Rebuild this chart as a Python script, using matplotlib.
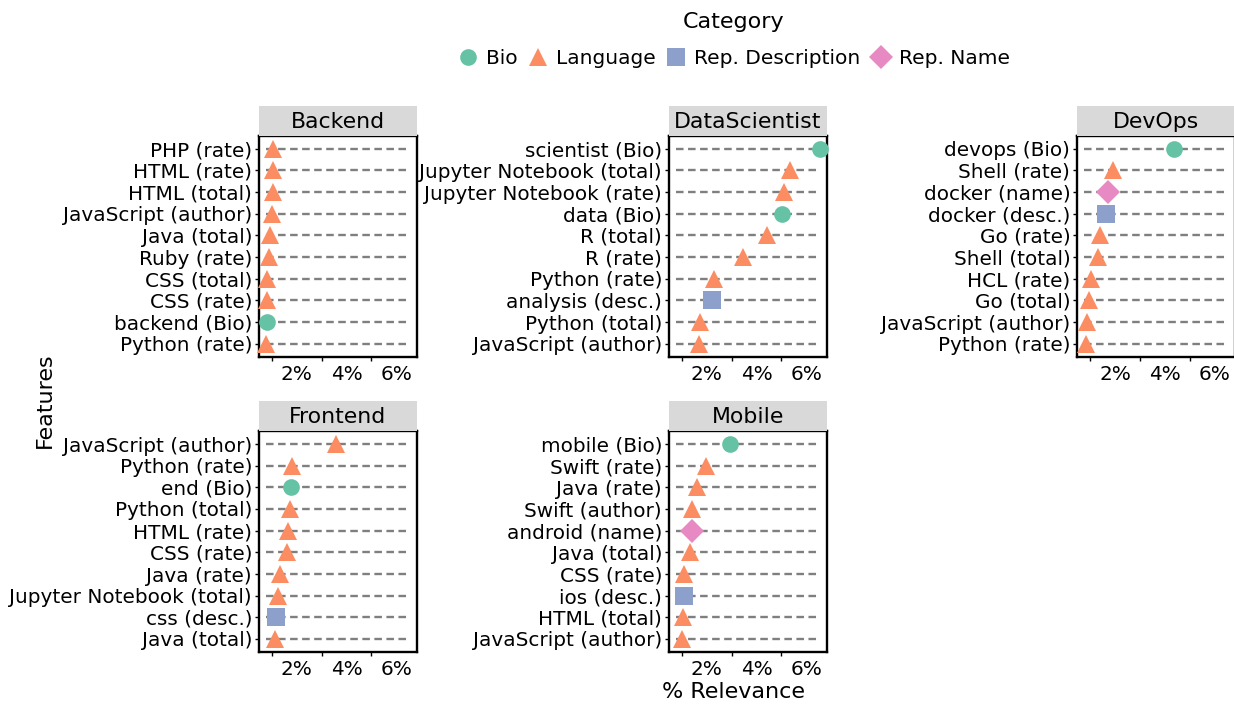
import numpy as np
import matplotlib
matplotlib.use("Agg")
import matplotlib.pyplot as plt
from matplotlib.lines import Line2D
from matplotlib.ticker import FixedLocator, FuncFormatter

# data (top to bottom in each panel), values in %
backend_feat = ['PHP (rate)', 'HTML (rate)', 'HTML (total)', 'JavaScript (author)', 'Java (total)',
                'Ruby (rate)', 'CSS (total)', 'CSS (rate)', 'backend (Bio)', 'Python (rate)']
backend_val = [1.05, 1.03, 1.03, 1.01, 0.91, 0.86, 0.80, 0.80, 0.80, 0.76]
backend_cat = ['Language'] * 8 + ['Bio', 'Language']

ds_feat = ['scientist (Bio)', 'Jupyter Notebook (total)', 'Jupyter Notebook (rate)', 'data (Bio)',
           'R (total)', 'R (rate)', 'Python (rate)', 'analysis (desc.)', 'Python (total)',
           'JavaScript (author)']
ds_val = [6.54, 5.36, 5.09, 5.03, 4.41, 3.47, 2.27, 2.19, 1.73, 1.68]
ds_cat = ['Bio', 'Language', 'Language', 'Bio', 'Language', 'Language', 'Language',
          'Rep. Description', 'Language', 'Language']

devops_feat = ['devops (Bio)', 'Shell (rate)', 'docker (name)', 'docker (desc.)', 'Go (rate)',
               'Shell (total)', 'HCL (rate)', 'Go (total)', 'JavaScript (author)', 'Python (rate)']
devops_val = [4.35, 1.93, 1.72, 1.63, 1.39, 1.32, 1.03, 0.93, 0.88, 0.84]
devops_cat = ['Bio', 'Language', 'Rep. Name', 'Rep. Description'] + ['Language'] * 6

front_feat = ['JavaScript (author)', 'Python (rate)', 'end (Bio)', 'Python (total)', 'HTML (rate)',
              'CSS (rate)', 'Java (rate)', 'Jupyter Notebook (total)', 'css (desc.)', 'Java (total)']
front_val = [3.59, 1.81, 1.77, 1.74, 1.65, 1.62, 1.30, 1.23, 1.15, 1.12]
front_cat = ['Language', 'Language', 'Bio'] + ['Language'] * 5 + ['Rep. Description', 'Language']

mobile_feat = ['mobile (Bio)', 'Swift (rate)', 'Java (rate)', 'Swift (author)', 'android (name)',
               'Java (total)', 'CSS (rate)', 'ios (desc.)', 'HTML (total)', 'JavaScript (author)']
mobile_val = [2.95, 1.96, 1.59, 1.39, 1.38, 1.32, 1.09, 1.07, 1.03, 0.99]
mobile_cat = ['Bio', 'Language', 'Language', 'Language', 'Rep. Name', 'Language', 'Language',
              'Rep. Description', 'Language', 'Language']

categories = ['Bio', 'Language', 'Rep. Description', 'Rep. Name']
colors = {'Bio': '#66c2a5', 'Language': '#fc8d62', 'Rep. Description': '#8da0cb', 'Rep. Name': '#e78ac3'}
markers = {'Bio': 'o', 'Language': '^', 'Rep. Description': 's', 'Rep. Name': 'D'}
msizes = {'Bio': 12, 'Language': 13.5, 'Rep. Description': 12.5, 'Rep. Name': 12}

panels = [
    ('Backend', backend_feat, backend_val, backend_cat),
    ('DataScientist', ds_feat, ds_val, ds_cat),
    ('DevOps', devops_feat, devops_val, devops_cat),
    ('Frontend', front_feat, front_val, front_cat),
    ('Mobile', mobile_feat, mobile_val, mobile_cat),
]

all_vals = backend_val + ds_val + devops_val + front_val + mobile_val
vmin, vmax = min(all_vals), max(all_vals)
pad = 0.05 * (vmax - vmin)

W, H = 1234, 706
fig = plt.figure(figsize=(W / 100, H / 100), dpi=100)

lefts = [259, 669, 1077.3, 259, 669]
tops = [135.7, 135.7, 135.7, 431, 431]
aw, ah = 157.7, 221
strip_h = 30

for (name, feats, vals, cats), lx, ty in zip(panels, lefts, tops):
    ax = fig.add_axes([lx / W, 1 - (ty + ah) / H, aw / W, ah / H])
    n = len(feats)
    ypos = np.arange(n)[::-1]
    ax.hlines(ypos, vmin, vmax, colors='#7f7f7f', linewidth=1.7,
              linestyles=(0, (3.2, 1.9)), zorder=1)
    for c in categories:
        idx = [i for i, cc in enumerate(cats) if cc == c]
        if not idx:
            continue
        ax.plot([vals[i] for i in idx], [ypos[i] for i in idx], linestyle='none',
                marker=markers[c], markersize=msizes[c], color=colors[c],
                markeredgewidth=0, zorder=3, clip_on=False)
    ax.set_xlim(vmin - pad, vmax + pad)
    ax.set_ylim(-0.6, n - 0.4)
    ax.set_yticks(ypos)
    ax.set_yticklabels(feats, fontsize=14.4)
    ax.xaxis.set_major_locator(FixedLocator([2, 4, 6]))
    ax.xaxis.set_minor_locator(FixedLocator([1, 3, 5]))
    ax.xaxis.set_major_formatter(FuncFormatter(lambda v, p: '%d%%' % v))
    ax.tick_params(axis='x', which='major', length=0, labelsize=14.4, pad=6)
    ax.tick_params(axis='x', which='minor', length=3, width=1)
    ax.tick_params(axis='y', length=3, width=1, pad=2)
    for s in ax.spines.values():
        s.set_linewidth(1.7)
        s.set_color('black')
    # facet strip
    sax = fig.add_axes([lx / W, 1 - ty / H, aw / W, strip_h / H])
    sax.set_facecolor('#d9d9d9')
    sax.set_xticks([])
    sax.set_yticks([])
    for s in sax.spines.values():
        s.set_visible(False)
    sax.text(0.5, 0.45, name, ha='center', va='center', fontsize=15.8, transform=sax.transAxes)

fig.text(45 / W, 1 - 400 / H, 'Features', rotation=90, ha='center', va='center', fontsize=16)
fig.text(733 / W, 1 - 692 / H, '% Relevance', ha='center', va='center', fontsize=16)

handles = [Line2D([], [], linestyle='none', marker=markers[c], markersize=msizes[c],
                  color=colors[c], markeredgewidth=0) for c in categories]
leg = fig.legend(handles, categories, title='Category', loc='upper center',
                 bbox_to_anchor=(734 / W, 1.0), ncol=4, frameon=False, fontsize=14.5,
                 title_fontsize=16, handlelength=1.0, handletextpad=0.4,
                 columnspacing=0.5, borderaxespad=0.2)
leg._legend_box.sep = 12

fig.savefig('out.png', dpi=100)
